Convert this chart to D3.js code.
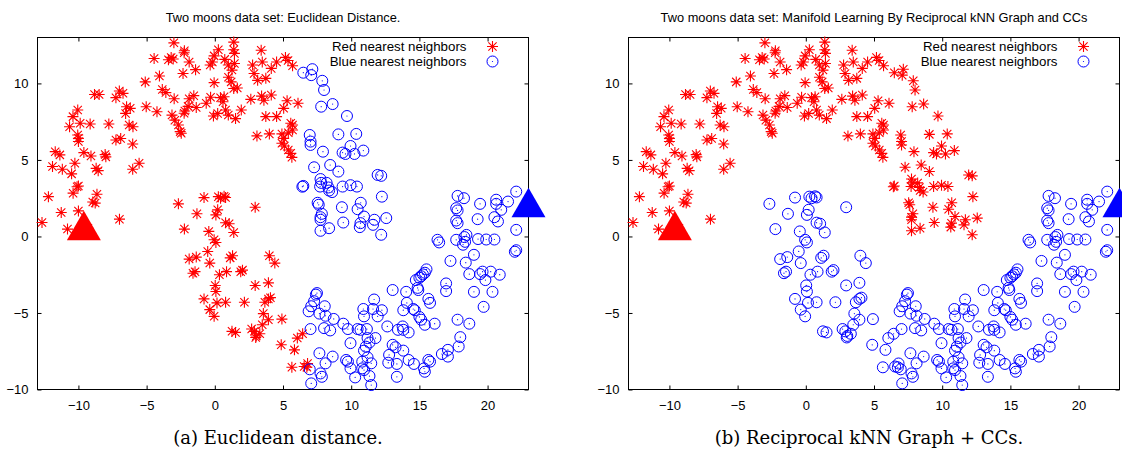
<!DOCTYPE html>
<html>
<head>
<meta charset="utf-8">
<script src="https://cdn.jsdelivr.net/npm/d3@7"></script>
<style>
  body { margin: 0; background: #fff; }
  svg { display: block; }
  .tick text { font-family: "Liberation Sans", Arial, sans-serif; font-size: 13px; fill: #000; }
  .tick line { stroke: #000; }
</style>
</head>
<body>
<div id="chart"></div>
<script>
// two moons; same points in both panels,
// only the labels differ (Euclidean vs. reciprocal kNN + CCs)
var upperRed = [
  [-3.0,12.65],[-2.23,12.13],[-2.25,12.0],[-4.45,11.63],[-3.4,11.55],[-3.2,11.7],[-3.05,11.6],[-1.88,11.4],
  [-4.06,10.48],[-5.1,10.1],[-2.33,10.65],[-1.41,10.9],[-0.34,11.2],[-0.18,11.4],[0.26,12.2],[-0.05,11.8],
  [-0.05,10.05],[0.73,11.57],[1.39,12.7],[1.39,12.2],[1.44,11.96],[0.99,11.2],[1.44,11.3],[1.0,10.4],
  [1.2,10.1],[1.39,9.67],[1.65,9.7],[1.26,10.87],[3.4,12.17],[3.48,11.4],[2.77,11.2],[2.88,10.65],
  [3.14,10.2],[3.74,10.33],[4.14,10.98],[4.53,11.4],[5.18,11.7],[5.37,11.5],[5.7,11.15],[-3.85,9.6],
  [-3.59,9.4],[-2.98,9.0],[-1.88,9.0],[-1.54,9.2],[-1.96,8.5],[-2.2,8.2],[-2.25,8.05],[-1.36,8.43],
  [-0.63,8.7],[-0.31,9.1],[0.42,9.07],[0.68,9.13],[0.79,8.26],[0.99,7.93],[1.94,8.26],[1.52,7.7],
  [2.64,8.96],[3.43,9.17],[3.6,8.9],[4.14,9.24],[3.74,7.83],[4.53,7.83],[5.05,8.37],[6.1,8.7],
  [5.3,8.87],[5.7,7.28],[5.57,7.4],[-8.82,9.28],[-8.48,9.28],[-7.25,9.07],[-7.0,9.5],[-6.73,9.35],
  [-6.47,8.48],[-6.2,8.37],[-6.54,8.04],[-5.03,8.48],[-10.05,8.26],[-10.4,7.83],[-10.65,7.17],[-9.87,7.4],
  [-9.14,7.35],[-7.77,7.35],[-6.28,7.28],[-6.0,7.17],[-6.9,6.4],[-10.05,6.63],[-3.14,7.93],[-2.93,7.6],
  [-2.67,7.28],[-2.54,6.85],[-2.46,6.74],[-0.1,7.87],[0.21,8.04],[0.6,8.8],[3.09,6.57],[4.0,6.7],
  [4.92,6.7],[-4.24,8.15],[-10.0,6.41],[-10.0,6.2],[-7.25,6.3],[-6.02,6.04],[-11.7,5.54],[-11.36,5.33],
  [-11.9,4.57],[-11.18,4.39],[-10.26,4.78],[-10.5,4.09],[-9.6,5.48],[-9.08,5.26],[-8.04,5.35],[-7.99,5.2],
  [-8.7,4.45],[-8.55,4.3],[-6.02,4.39],[-5.55,4.78],[-12.2,2.6],[-10.39,2.83],[-10.0,3.3],[-10.1,3.25],
  [-8.64,2.76],[-8.95,2.25],[-8.77,2.18],[-11.26,1.57],[-10.0,1.67],[-12.67,0.91],[-6.99,1.13],[-10.8,0.48],
  [-9.3,0.54],[5.05,6.41],[4.92,6.09],[5.1,5.91],[5.39,5.65],[5.57,5.43],[5.65,5.17],[5.39,6.78],[5.7,6.96]
];
var upperBlue = [
  [6.49,10.7],[7.15,10.93],[7.07,10.54],[7.88,10.17],[8.01,9.57],[7.8,8.48],[8.64,8.65],[9.69,7.87],
  [6.96,6.63],[9.06,6.67],[10.37,6.7],[7.02,6.2],[7.02,5.98],[7.93,5.54],[7.28,4.52],[8.46,4.67],
  [9.06,4.24],[9.95,5.91],[9.37,5.48],[9.58,5.39],[10.24,5.39],[10.89,5.61],[11.94,4.02],[12.2,3.96],
  [6.49,3.3],[6.42,3.25],[7.72,3.26],[7.75,3.75],[7.8,3.5],[8.2,3.5],[8.33,3.2],[8.38,3.0],[8.6,2.9],
  [9.37,3.26],[9.95,3.35],[10.42,3.26],[12.25,2.6],[7.54,2.2],[7.62,2.07],[9.32,1.91],[10.7,2.2],
  [10.47,1.78],[7.85,1.48],[7.75,1.26],[7.75,1.09],[9.42,0.91],[10.94,1.3],[10.68,0.87],[10.63,0.61],
  [11.7,1.09],[11.6,0.76],[12.57,1.2],[7.75,0.37],[8.38,0.54],[12.2,0.11]
];
var lowerRed = [
  [-2.67,2.13],[-0.79,2.54],[-1.31,1.48],[-2.23,0.48],[-0.44,0.33],[-0.05,-0.22],[0.08,-0.39],[0.26,2.6],
  [0.42,2.5],[0.68,2.62],[0.79,2.55],[0.21,1.74],[0.08,1.41],[0.79,0.9],[1.05,0.83],[1.39,0.26],
  [2.96,1.91],[-0.52,-0.98],[-1.88,-1.48],[-1.36,-1.35],[-0.37,-1.74],[1.13,-1.4],[1.3,-1.26],[4.0,-1.26],
  [4.4,-1.74],[-1.6,-2.4],[-1.45,-2.3],[0.34,-2.5],[0.86,-2.3],[1.9,-2.3],[2.03,-2.2],[0.03,-3.2],
  [0.08,-3.6],[2.96,-3.2],[3.93,-3.03],[-0.79,-4.08],[-0.37,-4.78],[0.16,-4.34],[-0.05,-5.22],[0.79,-4.3],
  [2.17,-4.3],[3.67,-4.3],[3.93,-4.08],[4.08,-4.0],[3.56,-5.04],[3.93,-5.44],[3.48,-5.77],[2.7,-6.05],
  [2.9,-6.2],[3.04,-6.5],[3.0,-6.6],[3.3,-6.36],[1.26,-6.2],[1.52,-6.27],[4.92,-5.4],[4.87,-7.08],
  [5.84,-7.41],[6.05,-6.64],[6.44,-6.36],[5.65,-8.55],[6.55,-8.5],[6.75,-8.55],[6.8,-8.3]
];
var lowerBlue = [
  [6.96,-8.68],[7.07,-9.6],[7.75,-8.95],[7.85,-9.17],[7.67,-7.63],[8.64,-7.85],[8.12,-8.29],[6.88,-4.89],
  [7.07,-4.56],[7.28,-4.23],[7.41,-3.8],[7.49,-3.7],[8.06,-4.56],[7.67,-5.04],[8.12,-5.18],[8.72,-5.39],
  [7.02,-6.05],[8.01,-5.99],[8.46,-6.14],[9.42,-5.7],[9.76,-6.05],[10.47,-6.05],[10.68,-6.1],[9.95,-6.97],
  [9.63,-8.07],[9.76,-8.18],[9.95,-8.62],[10.29,-9.21],[10.81,-8.62],[10.94,-8.73],[10.89,-4.74],[10.94,-5.22],
  [11.15,-6.05],[11.2,-6.64],[11.34,-6.93],[11.07,-7.2],[10.94,-7.46],[11.2,-7.9],[11.47,-8.29],[10.81,-8.18],
  [11.34,-9.12],[11.47,-9.71],[11.6,-4.74],[11.68,-4.12],[11.78,-6.64],[11.94,-5.22],[12.25,-4.82],[12.65,-5.88],
  [12.78,-7.74],[12.72,-8.25],[13.04,-7.08],[13.25,-7.24],[13.04,-3.5],[13.43,-6.1],[13.35,-8.33],[13.35,-9.17],
  [13.82,-7.46],[13.77,-5.88],[13.82,-6.1],[13.82,-4.82],[14.03,-3.62],[14.08,-4.34],[14.21,-6.27],[14.21,-8.07],
  [14.6,-8.33],[14.55,-4.74],[14.66,-4.82],[14.74,-2.85],[14.87,-3.36],[14.92,-3.5],[15.0,-2.7],[15.13,-2.6],
  [15.26,-2.48],[15.4,-2.37],[15.52,-2.15],[15.0,-5.26],[15.13,-5.44],[15.4,-5.77],[15.34,-8.62],[15.4,-8.84],
  [15.66,-4.08],[15.78,-4.34],[15.66,-8.07],[15.78,-8.18],[16.12,-5.7],[16.65,-7.68],[16.96,-3.07],[16.96,-3.57],
  [17.09,-7.41],[17.09,-7.85],[17.28,-1.6],[17.8,-5.44],[18.0,-6.58],[17.88,-7.19],[18.4,-1.71],[18.66,-5.7],
  [18.66,-2.46],[19.0,-3.62],[19.45,-2.46],[19.63,-2.3],[19.84,-2.85],[20.23,-2.3],[20.36,-3.62],[20.89,-2.5],
  [19.71,-4.6],[17.8,2.65],[18.27,2.5],[19.45,2.13],[20.63,2.4],[20.63,2.13],[21.5,2.28],[22.1,2.93],
  [17.7,1.85],[17.8,1.7],[17.7,1.04],[17.8,0.87],[19.27,1.13],[20.5,1.26],[20.76,0.98],[21.0,1.74],
  [22.1,0.43],[16.33,-0.22],[16.45,-0.39],[17.7,-0.22],[18.3,-0.04],[18.45,0.1],[18.35,-0.35],[18.2,-0.54],
  [19.3,-0.17],[19.9,-0.2],[20.5,-0.2],[22.1,-0.9],[22.0,-1.0],[19.0,-1.2]
];
var redSeed = [-9.6, 0.4];
var blueSeed = [23.0, 1.9];

var xTicks = [-10, -5, 0, 5, 10, 15, 20];
var yTicks = [-10, -5, 0, 5, 10];
var legendLabels = ["Red nearest neighbors", "Blue nearest neighbors"];
var titles = ["Two moons data set: Euclidean Distance.",
              "Two moons data set: Manifold Learning By Reciprocal kNN Graph and CCs"];
var captions = ["(a) Euclidean distance.", "(b) Reciprocal kNN Graph + CCs."];

var RED = "#ff0000", BLUE = "#0000ff";
var width = 491, height = 352;

var svg = d3.select("#chart").append("svg")
    .attr("width", 1122)
    .attr("height", 450);

var x = d3.scaleLinear().domain([-13, 23]).range([0, width]);
var y = d3.scaleLinear().domain([-10, 13]).range([height, 0]);

// gnuplot style "*" point
function star(sel, a) {
  var d = a * 0.75;
  sel.append("path")
      .attr("d", "M" + (-a) + ",0H" + a + "M0," + (-a) + "V" + a +
                 "M" + (-d) + "," + (-d) + "L" + d + "," + d +
                 "M" + (-d) + "," + d + "L" + d + "," + (-d))
      .attr("stroke", RED)
      .attr("stroke-width", 1.1)
      .attr("fill", "none");
}
function ring(sel, r) {
  sel.append("circle").attr("r", r)
      .attr("fill", "none").attr("stroke", BLUE).attr("stroke-width", 1);
  sel.append("circle").attr("r", 0.6).attr("fill", BLUE);
}

function panel(left, i, reds, blues) {
  var g = svg.append("g")
      .attr("transform", "translate(" + left + ",37.5)");

  g.append("text")
      .attr("x", width / 2)
      .attr("y", -16)
      .attr("text-anchor", "middle")
      .style("font-family", "Liberation Sans, Arial, sans-serif")
      .style("font-size", "12.8px")
      .text(titles[i]);

  // axes with inward ticks on all four sides
  g.append("g")
      .attr("transform", "translate(0," + height + ")")
      .call(d3.axisBottom(x).tickValues(xTicks).tickSizeInner(-4).tickSizeOuter(0).tickPadding(11));
  g.append("g")
      .call(d3.axisLeft(y).tickValues(yTicks).tickSizeInner(-4).tickSizeOuter(0).tickPadding(9));
  g.append("g")
      .call(d3.axisTop(x).tickValues(xTicks).tickSizeInner(-4).tickSizeOuter(0).tickFormat(""));
  g.append("g")
      .attr("transform", "translate(" + width + ",0)")
      .call(d3.axisRight(y).tickValues(yTicks).tickSizeInner(-4).tickSizeOuter(0).tickFormat(""));
  g.selectAll(".domain").remove();

  g.append("rect")
      .attr("width", width)
      .attr("height", height)
      .attr("fill", "none")
      .attr("stroke", "#000")
      .attr("stroke-width", 1);

  g.selectAll(".red")
      .data(reds)
    .enter().append("g")
      .attr("class", "red")
      .attr("transform", function(d) { return "translate(" + x(d[0]) + "," + y(d[1]) + ")"; })
      .each(function() { star(d3.select(this), 5.5); });

  g.selectAll(".blue")
      .data(blues)
    .enter().append("g")
      .attr("class", "blue")
      .attr("transform", function(d) { return "translate(" + x(d[0]) + "," + y(d[1]) + ")"; })
      .each(function() { ring(d3.select(this), 5.5); });

  // the two seed points
  var tri = d3.symbol().type(d3.symbolTriangle).size(500);
  g.append("path")
      .attr("d", tri())
      .attr("fill", RED)
      .attr("transform", "translate(" + x(redSeed[0]) + "," + y(redSeed[1]) + ")");
  g.append("path")
      .attr("d", tri())
      .attr("fill", BLUE)
      .attr("transform", "translate(" + x(blueSeed[0]) + "," + y(blueSeed[1]) + ")");

  // legend
  var legend = g.append("g");
  legendLabels.forEach(function(lbl, k) {
    legend.append("text")
        .attr("x", 429)
        .attr("y", 13.5 + k * 15)
        .attr("text-anchor", "end")
        .style("font-family", "Liberation Sans, Arial, sans-serif")
        .style("font-size", "13.3px")
        .text(lbl);
    var sym = legend.append("g").attr("transform", "translate(455," + (9 + k * 15) + ")");
    if (k === 0) star(sym, 5.5); else ring(sym, 5.5);
  });

  g.append("text")
      .attr("x", width / 2 - 5)
      .attr("y", 406)
      .attr("text-anchor", "middle")
      .style("font-family", "DejaVu Serif, serif")
      .style("font-size", "18px")
      .text(captions[i]);
}

// (a) Euclidean: split at the gap between the moons
panel(37.5, 0, upperRed.concat(lowerRed), upperBlue.concat(lowerBlue));
// (b) reciprocal kNN + CCs: each moon gets one label
panel(628.5, 1, upperRed.concat(upperBlue), lowerRed.concat(lowerBlue));
</script>
</body>
</html>
